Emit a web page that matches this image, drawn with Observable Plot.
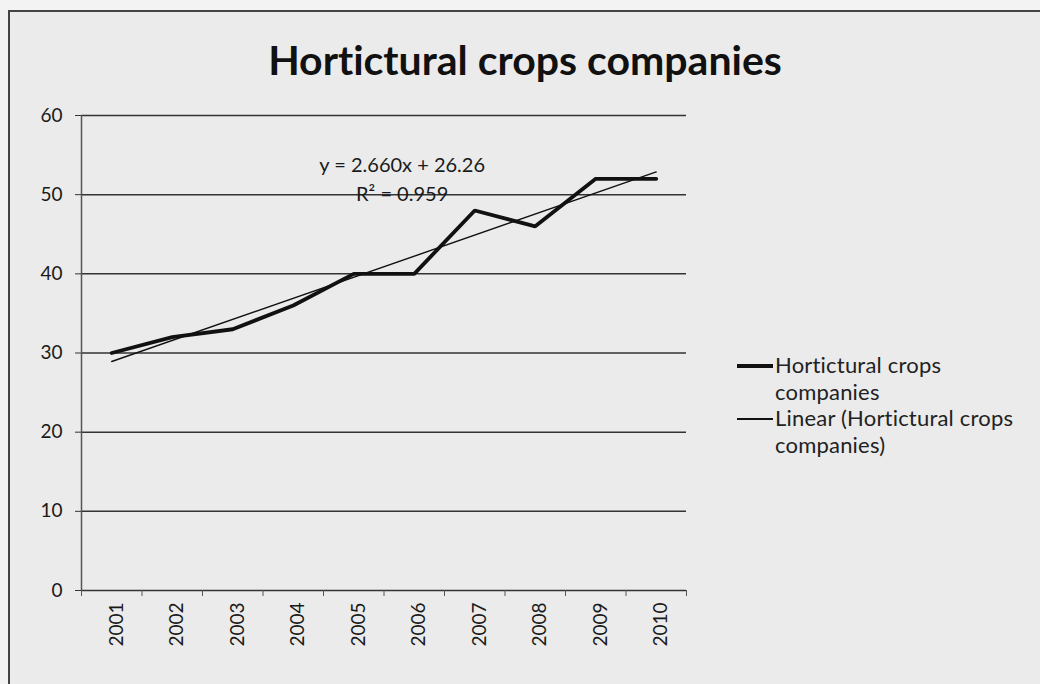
<!DOCTYPE html>
<html>
<head>
<meta charset="utf-8">
<script src="https://cdn.jsdelivr.net/npm/d3@7"></script>
<script src="https://cdn.jsdelivr.net/npm/@observablehq/plot@0.6"></script>
<style>
  html, body { margin: 0; padding: 0; background: #f3f3f3; }
  body { width: 1040px; height: 684px; overflow: hidden; position: relative; font-family: Lato, "Open Sans", sans-serif; font-variant-ligatures: none; }
  #frame { position: absolute; left: 8px; top: 10px; width: 1040px; height: 690px; background: #ebebeb; border-left: 2px solid #444; border-top: 2px solid #444; }
  #chart { position: absolute; left: 0; top: 0; }
  #chart svg text { font-variant-ligatures: none; }
  #title { position: absolute; left: 0; width: 1050px; top: 36px; text-align: center; font-size: 41px; line-height: 48px; font-weight: bold; color: #111; }
  .leg { position: absolute; left: 737px; font-size: 22px; color: #222; line-height: 27px; letter-spacing: 0.2px; }
  .leg .swatch { position: absolute; left: 0; top: 13px; width: 36px; background: #111; }
  .leg .lbl { position: absolute; left: 38px; top: 0; white-space: nowrap; }
</style>
</head>
<body>
<div id="frame"></div>
<div id="chart"></div>
<div id="title">Hortictural crops companies</div>
<div class="leg" style="top:351px"><div class="swatch" style="height:4px"></div><div class="lbl">Hortictural crops<br>companies</div></div>
<div class="leg" style="top:404px"><div class="swatch" style="height:1.5px;top:14px"></div><div class="lbl">Linear (Hortictural crops<br>companies)</div></div>
<script>
const years = ["2001","2002","2003","2004","2005","2006","2007","2008","2009","2010"];
const companies = [30, 32, 33, 36, 40, 40, 48, 46, 52, 52];
const yTicks = [0, 10, 20, 30, 40, 50, 60];
const equationLines = ["y = 2.660x + 26.26", "R\u00b2 = 0.959"];
const equationAt = [{x: 5.8, y: 53.7}, {x: 5.8, y: 50.0}];

const data = years.map((yr, i) => ({i: i + 1, year: yr, value: companies[i]}));
const idx = d3.range(1, years.length + 1);
const bounds = d3.range(0.5, years.length + 1, 1);
const eq = equationLines.map((t, k) => ({text: t, ...equationAt[k]}));

const chart = Plot.plot({
  width: 1040,
  height: 684,
  marginLeft: 81,
  marginRight: 354,
  marginTop: 115,
  marginBottom: 94,
  style: {background: "transparent", fontFamily: "Lato, 'Open Sans', sans-serif", color: "#1a1a1a"},
  x: {type: "linear", domain: [0.5, years.length + 0.5]},
  y: {domain: [0, 60]},
  marks: [
    Plot.gridY(yTicks, {stroke: "#333", strokeOpacity: 1, strokeWidth: 1.5}),
    Plot.ruleX([0.5], {stroke: "#555", strokeWidth: 1.5}),
    Plot.axisY(yTicks, {tickSize: 6, tickPadding: 13, fontSize: 19, stroke: "#333", fill: "#1a1a1a", label: null, tickFormat: d => String(d)}),
    Plot.axisX(bounds, {tickSize: 6, tickFormat: () => "", label: null, stroke: "#555"}),
    Plot.axisX(idx, {tickSize: 0, tickPadding: 12, tickRotate: -90, fontSize: 19, fill: "#1a1a1a", dx: 5, label: null, tickFormat: i => years[i - 1]}),
    Plot.linearRegressionY(data, {x: "i", y: "value", stroke: "#111", strokeWidth: 1.4, ci: 0}),
    Plot.line(data, {x: "i", y: "value", stroke: "#111", strokeWidth: 3.8, strokeLinejoin: "miter"}),
    Plot.text(eq, {x: "x", y: "y", text: "text", fontSize: 20, fill: "#1a1a1a"})
  ]
});
document.getElementById("chart").appendChild(chart);
</script>
</body>
</html>
